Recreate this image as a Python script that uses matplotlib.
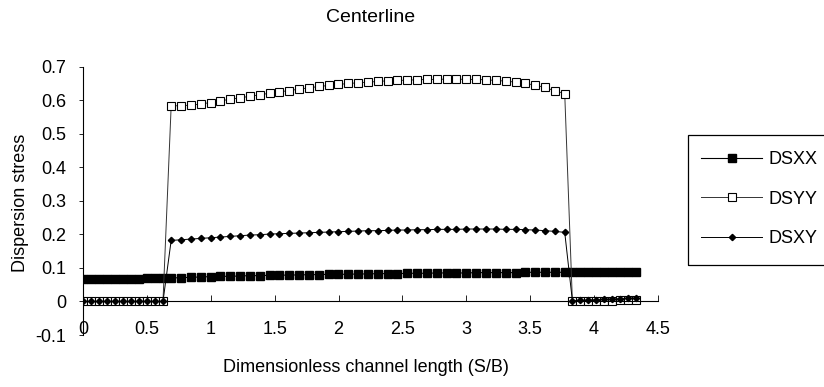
import matplotlib
matplotlib.use("Agg")
import matplotlib.pyplot as plt
from matplotlib.patches import Rectangle

plt.rcParams['font.family'] = ['Liberation Sans', 'DejaVu Sans']

# Dimensionless channel length (S/B) grid positions
x = [0.000, 0.063, 0.125, 0.188, 0.250, 0.313, 0.375, 0.438, 0.500, 0.563, 0.626,
     0.690, 0.767, 0.844, 0.921, 0.998, 1.075, 1.152, 1.229, 1.306, 1.383,
     1.460, 1.537, 1.614, 1.691, 1.768, 1.845, 1.922, 1.999, 2.076, 2.153,
     2.230, 2.307, 2.384, 2.461, 2.538, 2.615, 2.692, 2.769, 2.846, 2.923,
     3.000, 3.077, 3.154, 3.231, 3.308, 3.385, 3.462, 3.539, 3.616, 3.693, 3.770,
     3.830, 3.893, 3.955, 4.018, 4.080, 4.143, 4.205, 4.268, 4.330]

dsxx = [0.067, 0.067, 0.067, 0.067, 0.068, 0.068, 0.068, 0.068, 0.069, 0.069, 0.069,
        0.070, 0.071, 0.072, 0.073, 0.074, 0.075, 0.075, 0.076, 0.077, 0.077,
        0.078, 0.078, 0.079, 0.079, 0.080, 0.080, 0.081, 0.081, 0.081, 0.082,
        0.082, 0.083, 0.083, 0.083, 0.084, 0.084, 0.084, 0.085, 0.085, 0.085,
        0.085, 0.086, 0.086, 0.086, 0.086, 0.086, 0.087, 0.087, 0.087, 0.087, 0.087,
        0.087, 0.087, 0.088, 0.088, 0.088, 0.088, 0.089, 0.089, 0.089]

dsyy = [0.0, 0.0, 0.0, 0.0, 0.0, 0.0, 0.0, 0.0, 0.0, 0.0, 0.0,
        0.583, 0.584, 0.585, 0.589, 0.593, 0.598, 0.603, 0.607, 0.612, 0.616,
        0.621, 0.625, 0.629, 0.633, 0.637, 0.641, 0.644, 0.647, 0.650, 0.652,
        0.654, 0.656, 0.658, 0.659, 0.660, 0.661, 0.662, 0.662, 0.663, 0.663,
        0.662, 0.662, 0.661, 0.659, 0.657, 0.654, 0.650, 0.645, 0.638, 0.628, 0.620,
        0.000, 0.000, 0.001, 0.001, 0.002, 0.002, 0.003, 0.003, 0.004]

dsxy = [0.0, 0.0, 0.0, 0.0, 0.0, 0.0, 0.0, 0.0, 0.0, 0.0, 0.0,
        0.182, 0.184, 0.186, 0.188, 0.190, 0.192, 0.194, 0.196, 0.198, 0.199,
        0.201, 0.202, 0.203, 0.204, 0.205, 0.206, 0.207, 0.208, 0.209, 0.210,
        0.211, 0.211, 0.212, 0.213, 0.213, 0.214, 0.214, 0.215, 0.215, 0.215,
        0.216, 0.216, 0.216, 0.216, 0.215, 0.215, 0.214, 0.213, 0.211, 0.209, 0.206,
        0.002, 0.003, 0.004, 0.005, 0.006, 0.007, 0.008, 0.009, 0.010]

series_names = ['DSXX', 'DSYY', 'DSXY']
xticks = [0, 0.5, 1, 1.5, 2, 2.5, 3, 3.5, 4, 4.5]
xticklabels = ['0', '0.5', '1', '1.5', '2', '2.5', '3', '3.5', '4', '4.5']
yticks = [-0.1, 0, 0.1, 0.2, 0.3, 0.4, 0.5, 0.6, 0.7]
yticklabels = ['-0.1', '0', '0.1', '0.2', '0.3', '0.4', '0.5', '0.6', '0.7']

FS = 13
W, H = 824, 387
fig = plt.figure(figsize=(W / 100, H / 100), dpi=100)
ax = fig.add_axes([83 / W, 1 - 335 / H, (658 - 83) / W, (335 - 66.7) / H])

l1, = ax.plot(x, dsxx, color='black', lw=0.8, marker='s', ms=5.5,
              mfc='black', mec='black', label=series_names[0])
l2, = ax.plot(x, dsyy, color='#333333', lw=0.7, marker='s', ms=6,
              mfc='white', mec='black', mew=0.8, label=series_names[1])
l3, = ax.plot(x, dsxy, color='black', lw=0.7, marker='D', ms=3.2,
              mfc='black', mec='black', label=series_names[2])

ax.set_xlim(0, 4.5)
ax.set_ylim(-0.1, 0.7)
ax.spines['top'].set_visible(False)
ax.spines['right'].set_visible(False)
ax.spines['bottom'].set_position(('data', 0))
ax.spines['bottom'].set_linewidth(0.8)
ax.spines['left'].set_linewidth(0.8)

ax.set_xticks(xticks)
ax.set_xticklabels(xticklabels)
ax.set_yticks(yticks)
ax.set_yticklabels(yticklabels)
ax.tick_params(axis='x', direction='in', length=4, width=0.6, pad=14, labelsize=FS)
ax.tick_params(axis='y', direction='out', length=3, width=0.6, pad=9, labelsize=FS)

fig.text(371 / W, 1 - 18 / H, 'Centerline', ha='center', va='center', fontsize=14)
fig.text(366 / W, 1 - 368 / H, 'Dimensionless channel length (S/B)',
         ha='center', va='center', fontsize=FS)
fig.text(21 / W, 1 - 203 / H, 'Dispersion stress', ha='center', va='center',
         rotation=90, fontsize=FS)

# legend frame
fig.patches.append(Rectangle((688 / W, 1 - 265 / H), 200 / W, 130 / H,
                             transform=fig.transFigure, fill=False,
                             edgecolor='black', lw=0.9))
leg = fig.legend(handles=[l1, l2, l3], loc='upper left',
                 bbox_to_anchor=(701 / W, 1 - 151 / H), frameon=False,
                 fontsize=FS, handlelength=3.4, handletextpad=0.35,
                 labelspacing=1.25, borderaxespad=0, borderpad=0)

fig.savefig('out.png', dpi=100)
